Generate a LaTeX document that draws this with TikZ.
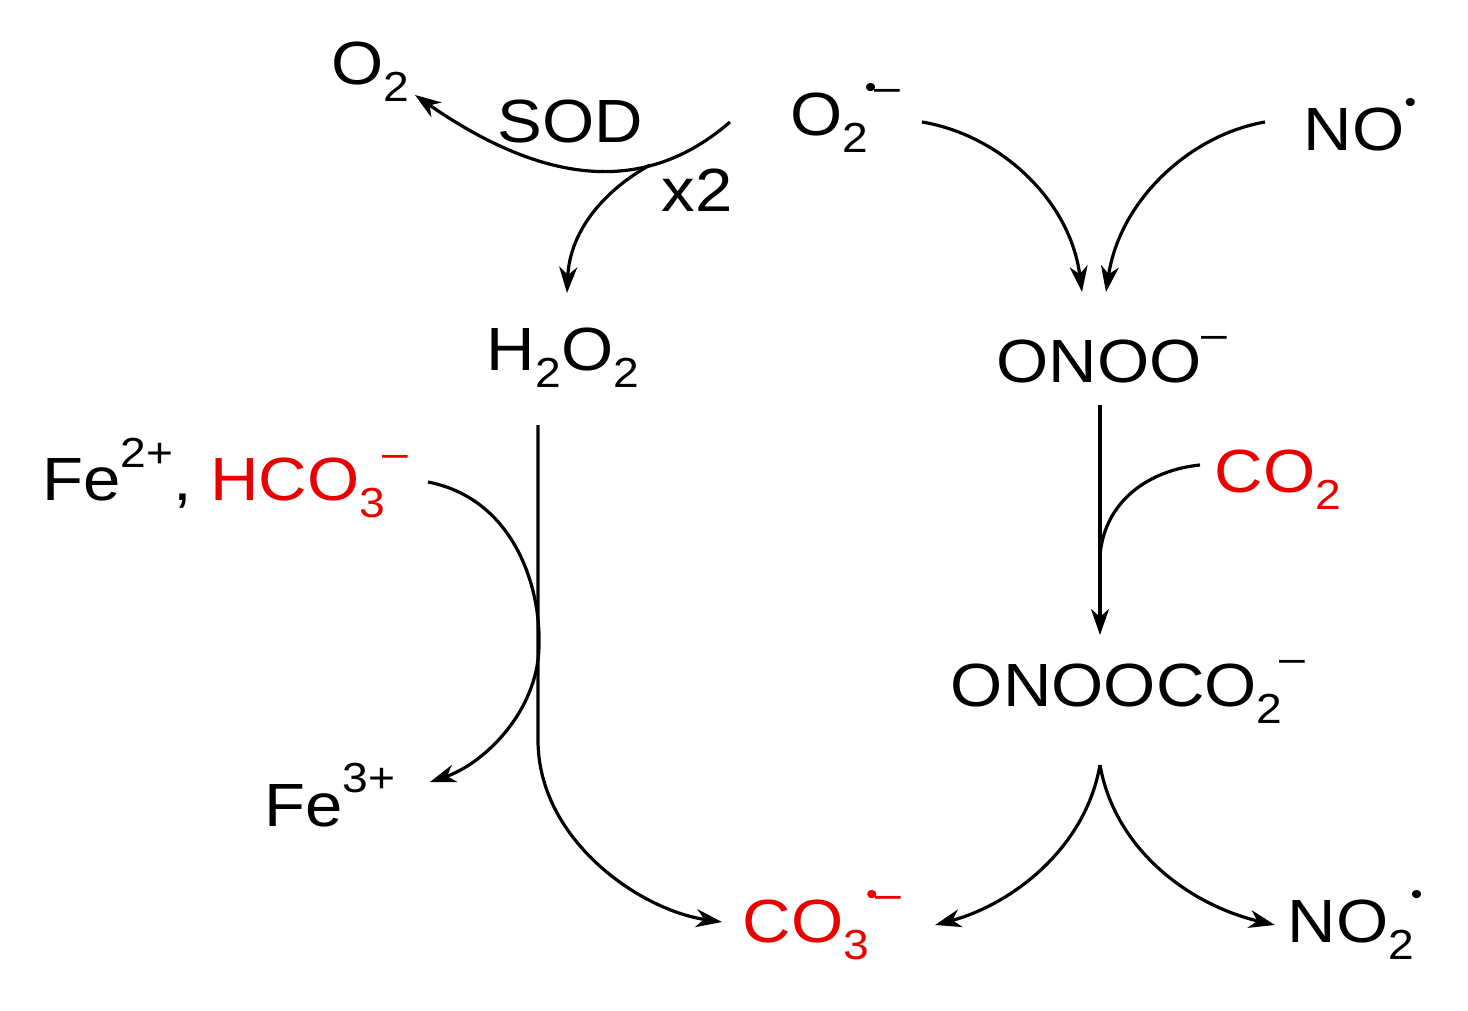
\documentclass[tikz,border=0pt]{standalone}
\usepackage{fontspec}
\setmainfont{Liberation Sans}[FakeStretch=1.1]
\usetikzlibrary{arrows.meta}
\definecolor{rd}{RGB}{235,0,0}
\newcommand{\dn}[1]{\raisebox{-0.28em}{\fontsize{42}{44}\selectfont #1}}
\newcommand{\up}[1]{\raisebox{0.55em}{\fontsize{42}{44}\selectfont #1}}
\newcommand{\rad}{\raisebox{0.1em}{\fontsize{30}{30}\selectfont\textbullet}}
\begin{document}
\begin{tikzpicture}[x=1pt,y=-1pt,
 lbl/.style={font=\fontsize{61}{66}\selectfont, inner sep=0pt},
 arr/.style={line width=3.2pt,-{Stealth[length=26pt,width=18pt,inset=8pt]}},
 ln/.style={line width=3.2pt}]
\useasboundingbox (0,0) rectangle (1468,1011);
\node[lbl] (o2) at (370,72) {O\dn{2}};
\node[lbl] (sod) at (570,122) {SOD};
\node[lbl] (sup) at (845,118) {O\dn{2}\kern-0.05em\up{\rad\kern-0.05em–}};
\node[lbl] (no) at (1360,125) {NO\up{\rad}};
\node[lbl] (x2) at (697,190) {x2};
\node[lbl] (h2o2) at (563,358) {H\dn{2}O\dn{2}};
\node[lbl] (onoo) at (1112,360) {ONOO\up{–}};
\node[lbl] (fe2) at (225,478) {Fe\up{2+}, \textcolor{rd}{HCO\dn{3}\kern-0.05em\up{–}}};
\node[lbl,text=rd] (co2) at (1278,480) {CO\dn{2}};
\node[lbl] (onoococ) at (1128,692) {ONOOCO\dn{2}\kern-0.05em\up{–}};
\node[lbl] (fe3) at (330,795) {Fe\up{3+}};
\node[lbl,text=rd] (co3) at (822,925) {CO\dn{3}\kern-0.05em\up{\rad\kern-0.05em–}};
\node[lbl] (no2) at (1355,925) {NO\dn{2}\kern-0.05em\up{\rad}};
\coordinate (a) at (730,122);
\coordinate (b) at (650,165);
\draw[arr] (a) .. controls (646,195) and (546,186) .. (415,95);
\draw[arr] (b) .. controls (605,190) and (570,230) .. (567,293);
\draw[arr] (922,122) .. controls (1000,135) and (1070,200) .. (1082,292);
\draw[arr] (1265,122) .. controls (1190,135) and (1120,200) .. (1106,292);
\draw[arr] (1100,405) -- (1100,635);
\draw[ln] (1200,465) .. controls (1150,470) and (1105,500) .. (1100,555);
\draw[arr] (538,425) -- (538,740) .. controls (538,840) and (640,910) .. (722,922);
\draw[arr] (428,482) .. controls (520,500) and (545,600) .. (538,660) .. controls (530,720) and (480,765) .. (430,782);
\draw[arr] (1100,765) .. controls (1085,850) and (1010,905) .. (935,925);
\draw[arr] (1100,765) .. controls (1115,850) and (1190,905) .. (1275,925);
\end{tikzpicture}
\end{document}
